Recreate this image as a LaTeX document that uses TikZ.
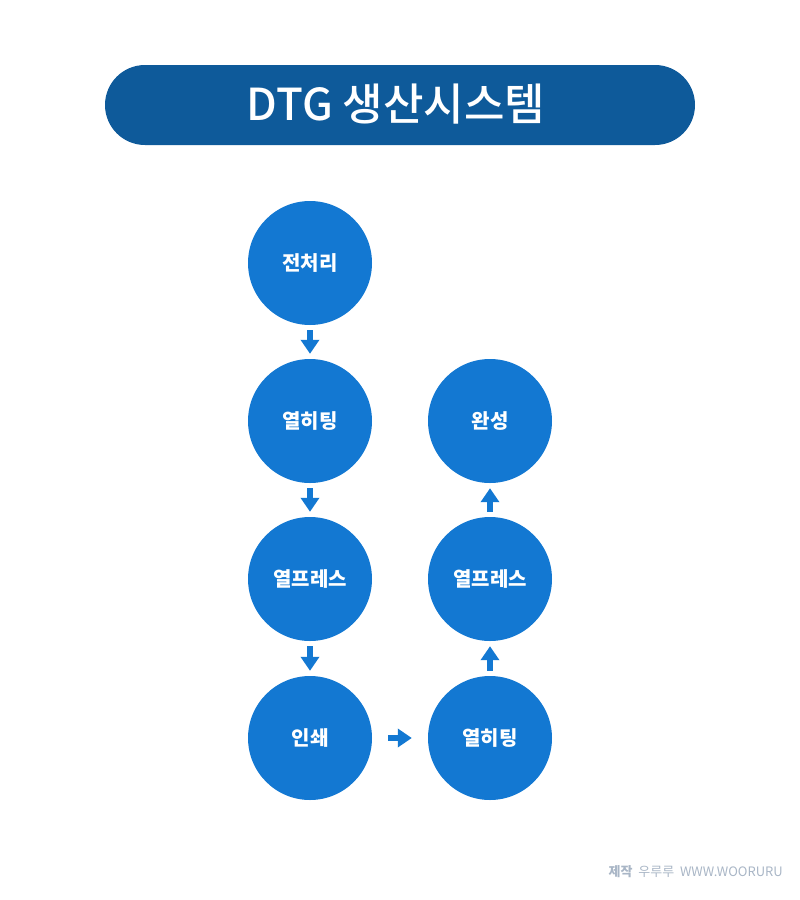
\documentclass[tikz,border=0pt]{standalone}
\usepackage{fontspec}
\setmainfont{Noto Sans CJK KR}
\newfontfamily\titlefont{Noto Sans CJK KR Medium}
\usepackage{tikz}
\usetikzlibrary{arrows.meta}

\definecolor{titleblue}{HTML}{0E5A9A}
\definecolor{stepblue}{HTML}{1378D2}
\definecolor{footgray}{HTML}{A9B6C6}

\tikzset{
  stepnode/.style={circle, fill=stepblue, minimum size=124pt, inner sep=0pt, text=white, font=\fontsize{20}{24}\selectfont\bfseries},
  flow/.style={stepblue, line width=6pt, -{Triangle[length=14pt,width=18pt]}, shorten <=5pt, shorten >=5pt}
}

\begin{document}
\begin{tikzpicture}[x=1pt, y=-1pt]
\useasboundingbox (0,0) rectangle (800,900);

\node[fill=titleblue, rounded corners=40pt, minimum width=590pt, minimum height=80pt, inner sep=0pt] (title) at (400,105) {};
\node[text=white, inner sep=0pt, font=\titlefont\fontsize{44}{50}\selectfont] (titletext) at (396,104) {DTG 생산시스템};

\draw
(310, 263) node[stepnode](pre){전처리}
(310, 421) node[stepnode](heat1){열히팅}
(310, 579) node[stepnode](press1){열프레스}
(310, 738) node[stepnode](print){인쇄}
(490, 738) node[stepnode](heat2){열히팅}
(490, 579) node[stepnode](press2){열프레스}
(490, 421) node[stepnode](done){완성};

\draw[flow] (pre) -- (heat1);
\draw[flow] (heat1) -- (press1);
\draw[flow] (press1) -- (print);
\draw[flow, shorten <=16pt, shorten >=16pt] (print) -- (heat2);
\draw[flow] (heat2) -- (press2);
\draw[flow] (press2) -- (done);

\node[anchor=east, text=footgray, font=\fontsize{13}{15}\selectfont, inner sep=0pt] (credit) at (783,872) {{\bfseries 제작}\ \ 우루루\ \ WWW.WOORURU};

\end{tikzpicture}
\end{document}
